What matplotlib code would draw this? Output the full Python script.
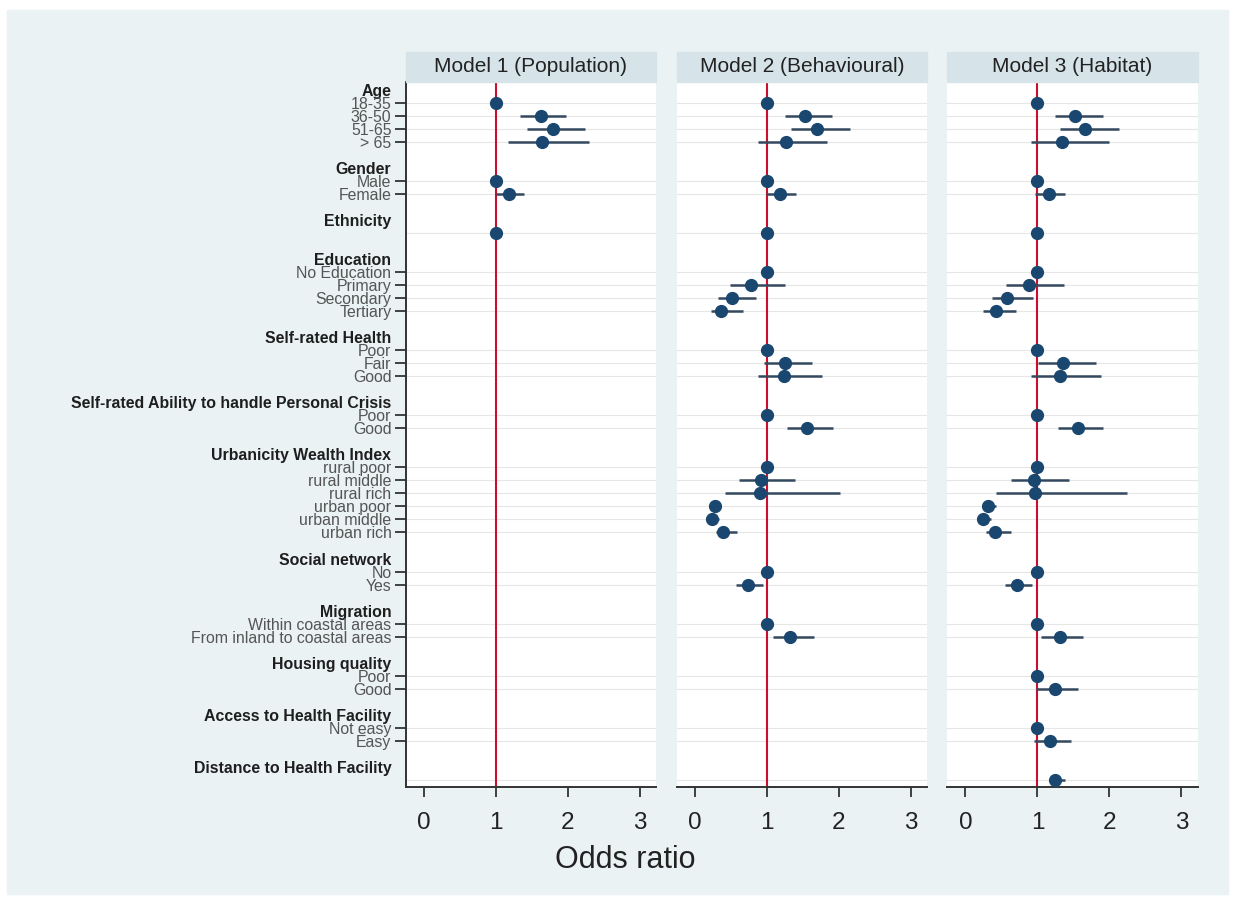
import numpy as np
import matplotlib
matplotlib.use("Agg")
import matplotlib.pyplot as plt
from matplotlib.patches import Rectangle

nan = np.nan

# variable groups and their levels (empty string = row without a label)
groups = ["Age", "Gender", "Ethnicity", "Education", "Self-rated Health",
          "Self-rated Ability to handle Personal Crisis", "Urbanicity Wealth Index",
          "Social network", "Migration", "Housing quality",
          "Access to Health Facility", "Distance to Health Facility"]
levels = [["18-35", "36-50", "51-65", "> 65"],
          ["Male", "Female"],
          [""],
          ["No Education", "Primary", "Secondary", "Tertiary"],
          ["Poor", "Fair", "Good"],
          ["Poor", "Good"],
          ["rural poor", "rural middle", "rural rich", "urban poor", "urban middle", "urban rich"],
          ["No", "Yes"],
          ["Within coastal areas", "From inland to coastal areas"],
          ["Poor", "Good"],
          ["Not easy", "Easy"],
          [""]]

models = ["Model 1 (Population)", "Model 2 (Behavioural)", "Model 3 (Habitat)"]

# odds ratios and 95% CI, one entry per level (nan = not in model / reference)
m1_or = [1, 1.63, 1.79, 1.64, 1, 1.18, 1] + [nan] * 24
m1_lo = [nan, 1.34, 1.43, 1.17, nan, 1.00, nan] + [nan] * 24
m1_hi = [nan, 1.98, 2.24, 2.29, nan, 1.39, nan] + [nan] * 24

m2_or = [1, 1.53, 1.69, 1.26, 1, 1.18, 1, 1, 0.77, 0.51, 0.36, 1, 1.25, 1.23, 1, 1.56,
         1, 0.92, 0.90, 0.28, 0.23, 0.38, 1, 0.74, 1, 1.32, nan, nan, nan, nan, nan]
m2_lo = [nan, 1.25, 1.34, 0.88, nan, 0.99, nan, nan, 0.48, 0.31, 0.22, nan, 0.96, 0.88, nan, 1.28,
         nan, 0.61, 0.41, 0.21, 0.18, 0.29, nan, 0.57, nan, 1.08, nan, nan, nan, nan, nan]
m2_hi = [nan, 1.90, 2.16, 1.84, nan, 1.40, nan, nan, 1.25, 0.85, 0.66, nan, 1.62, 1.76, nan, 1.92,
         nan, 1.39, 2.02, 0.35, 0.33, 0.58, nan, 0.95, nan, 1.65, nan, nan, nan, nan, nan]

m3_or = [1, 1.52, 1.66, 1.34, 1, 1.16, 1, 1, 0.88, 0.58, 0.42, 1, 1.36, 1.31, 1, 1.56,
         1, 0.95, 0.97, 0.32, 0.25, 0.41, 1, 0.72, 1, 1.31, 1, 1.24, 1, 1.17, 1.25]
m3_lo = [nan, 1.25, 1.31, 0.91, nan, 0.96, nan, nan, 0.56, 0.37, 0.24, nan, 1.01, 0.91, nan, 1.29,
         nan, 0.63, 0.43, 0.25, 0.19, 0.28, nan, 0.55, nan, 1.05, nan, 0.98, nan, 0.95, 1.17]
m3_hi = [nan, 1.91, 2.14, 1.99, nan, 1.38, nan, nan, 1.37, 0.94, 0.70, nan, 1.81, 1.88, nan, 1.91,
         nan, 1.44, 2.24, 0.42, 0.35, 0.63, nan, 0.93, nan, 1.63, nan, 1.56, nan, 1.46, 1.38]

x_ticks = [0, 1, 2, 3]

# colours (Stata s2color look)
bg = "#EAF2F3"
strip_col = "#D6E4E9"
navy = "#1A476F"
ci_col = "#34495E"
red = "#C8102E"
spine_col = "#333333"

plt.rcParams["font.family"] = ["Liberation Sans", "DejaVu Sans"]

# build the row layout: header, levels, blank
tick_rows, tick_text, is_header, level_rows = [], [], [], []
row = 0
for g, lv in zip(groups, levels):
    tick_rows.append(row); tick_text.append(g); is_header.append(True)
    row += 1
    for name in lv:
        level_rows.append(row)
        if name:
            tick_rows.append(row); tick_text.append(name); is_header.append(False)
        row += 1
    row += 1
level_rows = np.array(level_rows)

fig = plt.figure(figsize=(12.34, 9), dpi=100, facecolor="white")
fig.patches.append(Rectangle((7 / 1234, 6 / 900), 1221 / 1234, 884 / 900,
                             transform=fig.transFigure, color=bg, zorder=-10))

W, H = 1234, 900
top, bottom = 82, 787
panels_px = [(406, 656), (677, 927), (947, 1198)]
data = [(m1_or, m1_lo, m1_hi), (m2_or, m2_lo, m2_hi), (m3_or, m3_lo, m3_hi)]
ax_h = bottom - top

for i, ((l, r), (est, lo, hi)) in enumerate(zip(panels_px, data)):
    ax = fig.add_axes([l / W, 1 - bottom / H, (r - l) / W, ax_h / H])
    ax.set_facecolor("white")
    est, lo, hi = np.array(est), np.array(lo), np.array(hi)

    for yr in level_rows:
        ax.axhline(yr, color="#E6E6E6", lw=0.8, zorder=0)
    ax.axvline(1, color=red, lw=1.5, zorder=1)
    ax.hlines(level_rows, lo, hi, color=ci_col, lw=1.8, zorder=2)
    ax.plot(est, level_rows, "o", ms=8.5, color=navy, zorder=3, clip_on=False)

    ax.set_xlim(-0.255, 3.23)
    ax.set_ylim(53.55, -0.6)
    ax.set_xticks(x_ticks)
    ax.tick_params(axis="x", length=7, width=1.3, color=spine_col, labelsize=17.5,
                   labelcolor="#222222", pad=11)

    for s in ["top", "right"]:
        ax.spines[s].set_visible(False)
    ax.spines["bottom"].set_color(spine_col)
    ax.spines["bottom"].set_linewidth(1.4)

    if i == 0:
        ax.spines["left"].set_color(spine_col)
        ax.spines["left"].set_linewidth(1.4)
        ax.set_yticks(tick_rows)
        ax.set_yticklabels(tick_text)
        ax.tick_params(axis="y", length=8, width=1.3, color=spine_col, labelsize=11.4, pad=2.5)
        for t, lab, hdr in zip(ax.yaxis.get_major_ticks(), ax.get_yticklabels(), is_header):
            if hdr:
                t.tick1line.set_visible(False)
                lab.set_fontweight("bold")
                lab.set_color("#1E1E1E")
            else:
                lab.set_color("#555555")
    else:
        ax.spines["left"].set_visible(False)
        ax.set_yticks([])

    # strip header
    sh = 30 / ax_h
    ax.add_patch(Rectangle((0, 1), 1, sh, transform=ax.transAxes, color=strip_col,
                           clip_on=False, zorder=5))
    ax.text(0.5, 1 + sh / 2, models[i], transform=ax.transAxes, ha="center", va="center",
            fontsize=15, color="#222222", zorder=6)

fig.text(625 / W, 1 - 860 / H, "Odds ratio", ha="center", va="center", fontsize=22,
         color="#222222")

fig.savefig("out.png", dpi=100, facecolor=fig.get_facecolor())
